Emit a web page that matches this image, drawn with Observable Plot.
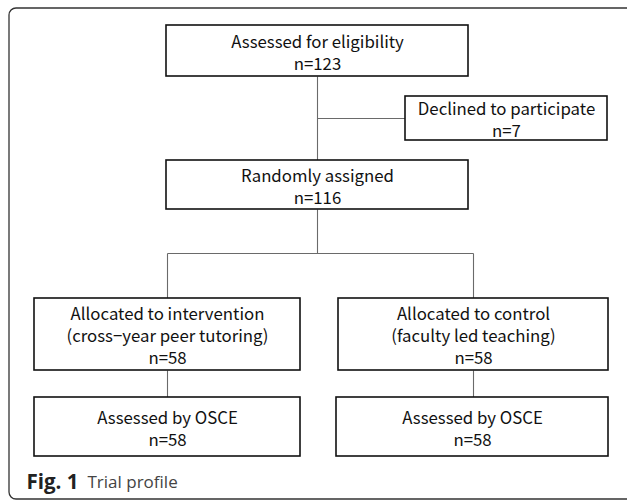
<!DOCTYPE html>
<html>
<head>
<meta charset="utf-8">
<script src="https://cdn.jsdelivr.net/npm/d3@7"></script>
<script src="https://cdn.jsdelivr.net/npm/@observablehq/plot@0.6"></script>
<style>
  html, body { margin: 0; padding: 0; background: #fff; overflow: hidden; }
</style>
</head>
<body>
<div id="chart"></div>
<script>
// ---- data ----
const stepLabels = [
  ["Assessed for eligibility"],
  ["Declined to participate"],
  ["Randomly assigned"],
  ["Allocated to intervention", "(cross−year peer tutoring)"],
  ["Allocated to control", "(faculty led teaching)"],
  ["Assessed by OSCE"],
  ["Assessed by OSCE"]
];
const stepCounts = [123, 7, 116, 58, 58, 58, 58];
const captionBold = "Fig. 1";
const captionText = "Trial profile";

// ---- layout (pixel units of the figure) ----
const boxLeft   = [166, 405, 166, 34, 338, 34, 336];
const boxRight  = [468, 607, 468, 300, 608, 300, 608];
const boxTop    = [25, 96, 160, 298, 298, 397, 397];
const boxBottom = [76, 140, 209, 370, 370, 456, 456];
const lineStep = 22;

const boxes = stepLabels.map((lines, i) => ({
  lines: [...lines, "n=" + stepCounts[i]],
  x1: boxLeft[i], x2: boxRight[i], y1: boxTop[i], y2: boxBottom[i],
  cx: (boxLeft[i] + boxRight[i]) / 2,
  cy: (boxTop[i] + boxBottom[i]) / 2
}));
const textLines = boxes.flatMap(b => b.lines.map((t, j) => ({
  text: t,
  x: b.cx,
  y: b.cy + 2.5 + (j - (b.lines.length - 1) / 2) * lineStep
})));

const mainX = boxes[0].cx;
const splitY = 253;
const branchY = 118;
const links = [
  {x1: mainX, y1: boxes[0].y2, x2: mainX, y2: boxes[2].y1},
  {x1: mainX, y1: branchY, x2: boxes[1].x1, y2: branchY},
  {x1: mainX, y1: boxes[2].y2, x2: mainX, y2: splitY},
  {x1: boxes[3].cx, y1: splitY, x2: boxes[4].cx, y2: splitY},
  {x1: boxes[3].cx, y1: splitY, x2: boxes[3].cx, y2: boxes[3].y1},
  {x1: boxes[4].cx, y1: splitY, x2: boxes[4].cx, y2: boxes[4].y1},
  {x1: boxes[3].cx, y1: boxes[3].y2, x2: boxes[3].cx, y2: boxes[5].y1},
  {x1: boxes[4].cx, y1: boxes[4].y2, x2: boxes[4].cx, y2: boxes[6].y1}
];

const W = 627, H = 504;
const chart = Plot.plot({
  width: W,
  height: H,
  margin: 0,
  x: {type: "linear", domain: [0, W], range: [0, W], axis: null},
  y: {type: "linear", domain: [0, H], range: [0, H], axis: null},
  style: {background: "#fff", overflow: "hidden"},
  marks: [
    Plot.rect([{x1: 9, x2: 660, y1: 8, y2: 499}], {
      x1: "x1", x2: "x2", y1: "y1", y2: "y2",
      fill: "none", stroke: "#333", strokeWidth: 1.3, rx: 7
    }),
    Plot.link(links, {
      x1: "x1", y1: "y1", x2: "x2", y2: "y2",
      stroke: "#6a6a6a", strokeWidth: 1.1
    }),
    Plot.rect(boxes, {
      x1: "x1", x2: "x2", y1: "y1", y2: "y2",
      fill: "#fff", stroke: "#111", strokeWidth: 1.6
    }),
    Plot.text(textLines, {
      x: "x", y: "y", text: "text",
      fontFamily: "'Noto Sans CJK JP', 'Noto Sans', sans-serif",
      fontSize: 16.8, lineAnchor: "middle",
      fill: "#111"
    }),
    Plot.text([captionBold], {
      x: 26, y: 482, text: d => d, textAnchor: "start",
      fontFamily: "'Open Sans', 'Noto Sans', sans-serif",
      fontWeight: "bold", fontSize: 20.5, fill: "#222"
    }),
    Plot.text([captionText], {
      x: 87, y: 482, text: d => d, textAnchor: "start",
      fontFamily: "'Open Sans', 'Noto Sans', sans-serif",
      fontSize: 17, fill: "#444"
    })
  ]
});
document.getElementById("chart").appendChild(chart);
</script>
</body>
</html>
